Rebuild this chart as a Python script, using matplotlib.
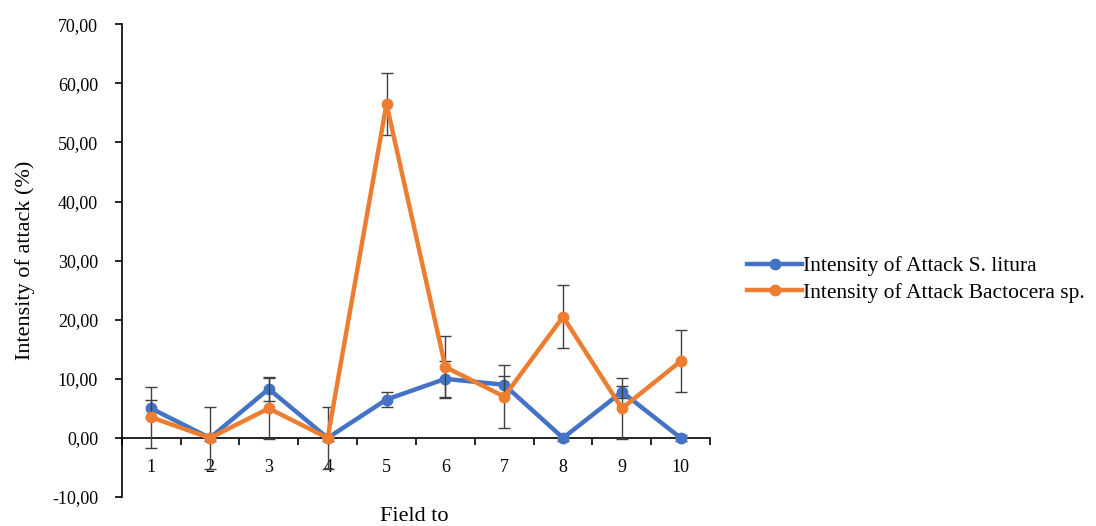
import numpy as np
import matplotlib.pyplot as plt
from matplotlib.lines import Line2D
from matplotlib.ticker import FuncFormatter, FixedLocator

plt.rcParams['font.family'] = ['Liberation Serif', 'DejaVu Serif']

fields = np.arange(1, 11)
litura = [5.0, 0.0, 8.3, 0.0, 6.5, 10.0, 9.0, 0.0, 7.8, 0.0]
litura_err = [1.5, 0.5, 2.0, 0.5, 1.3, 3.0, 1.5, 0.5, 1.0, 0.5]
bactocera = [3.5, 0.0, 5.0, 0.0, 56.5, 12.0, 7.0, 20.5, 5.0, 13.0]
bactocera_err = [5.2, 5.3, 5.2, 5.3, 5.2, 5.2, 5.3, 5.3, 5.2, 5.2]
labels = ['Intensity of Attack S. litura', 'Intensity of Attack Bactocera sp.']

blue = '#4472C4'
orange = '#ED7D31'

fig = plt.figure(figsize=(10.96, 5.26), dpi=100)
ax = fig.add_axes([0.111, 0.055, 0.537, 0.899])

ax.errorbar(fields, litura, yerr=litura_err, color=blue, lw=3.2, marker='o',
            ms=7.5, ecolor='#404040', elinewidth=1, capsize=4, capthick=1, zorder=3)
ax.errorbar(fields, bactocera, yerr=bactocera_err, color=orange, lw=3.2, marker='o',
            ms=7.5, ecolor='#404040', elinewidth=1, capsize=4, capthick=1, zorder=4)

ax.set_xlim(0.5, 10.5)
ax.set_ylim(-10, 70)
ax.set_yticks(np.arange(-10, 71, 10))
ax.yaxis.set_major_formatter(FuncFormatter(lambda v, p: f'{v:.2f}'.replace('.', ',')))

ax.spines['top'].set_visible(False)
ax.spines['right'].set_visible(False)
ax.spines['bottom'].set_position(('data', 0))
for s in ['left', 'bottom']:
    ax.spines[s].set_color('black')
    ax.spines[s].set_linewidth(1.2)

ax.set_xticks(fields)
ax.set_xticklabels([str(f) for f in fields])
ax.xaxis.set_minor_locator(FixedLocator(np.arange(0.5, 11, 1)))
ax.tick_params(axis='x', which='major', length=0, pad=15, labelsize=13)
ax.tick_params(axis='x', which='minor', length=5, direction='out', width=1.2)
ax.tick_params(axis='y', length=5, direction='out', width=1.2, labelsize=13, pad=12)

ax.set_ylabel('Intensity of attack (%)', fontsize=16, labelpad=12)
fig.text(0.378, 0.0, 'Field to', ha='center', va='bottom', fontsize=16)

handles = [Line2D([], [], color=blue, lw=3.2, marker='o', ms=7.5),
           Line2D([], [], color=orange, lw=3.2, marker='o', ms=7.5)]
ax.legend(handles, labels, loc='center left', bbox_to_anchor=(1.03, 0.46), frameon=False,
          fontsize=15.5, handlelength=2.55, handletextpad=0.05, labelspacing=0.3)

fig.savefig('out.png', dpi=100)
